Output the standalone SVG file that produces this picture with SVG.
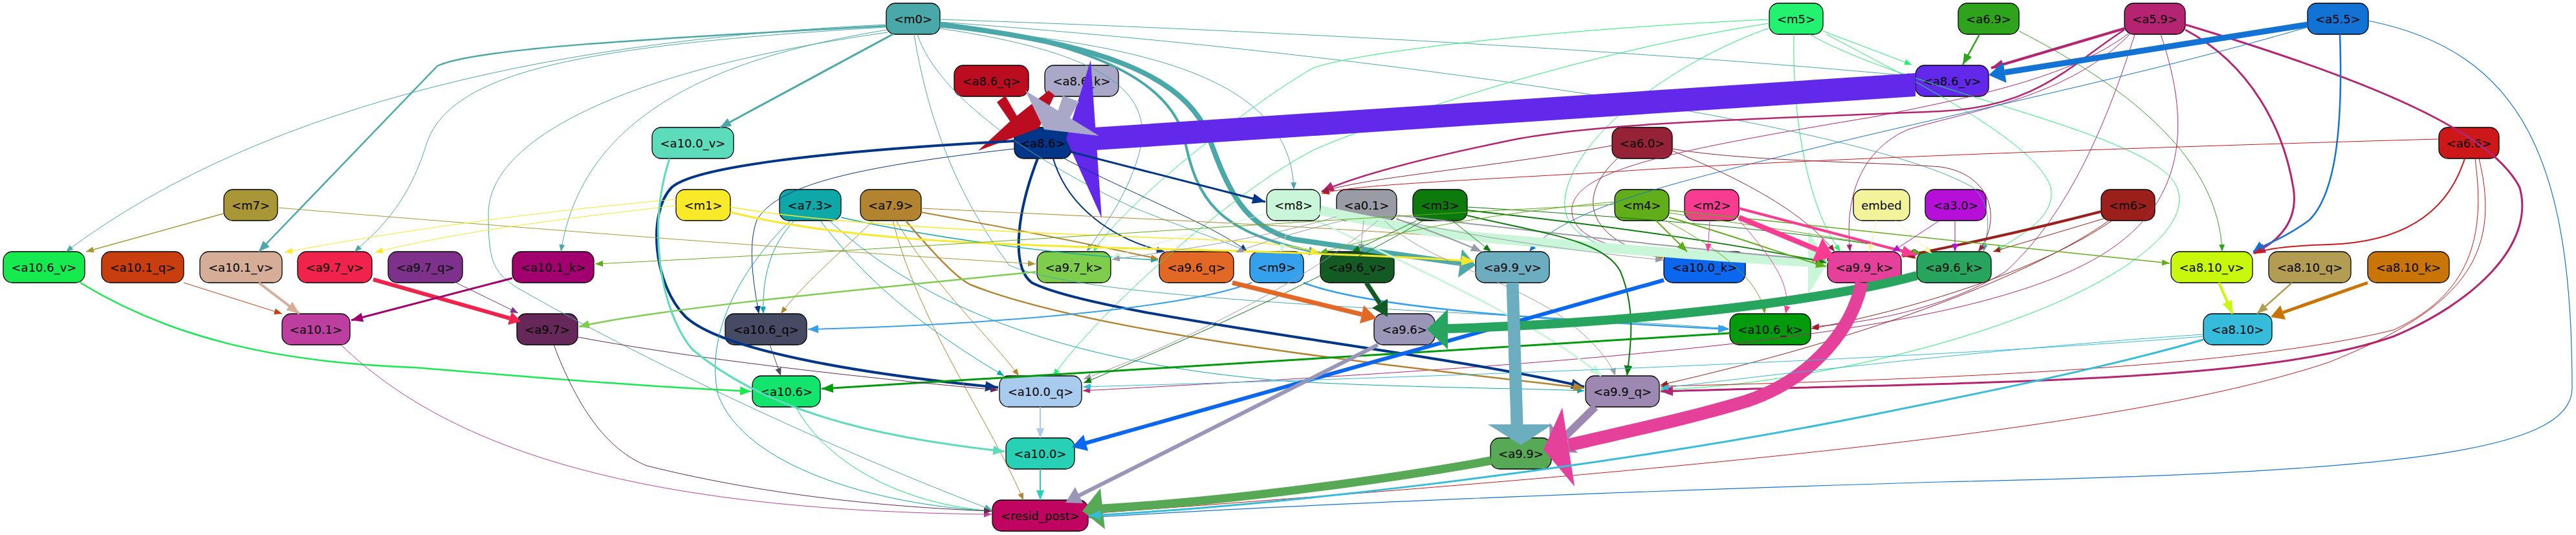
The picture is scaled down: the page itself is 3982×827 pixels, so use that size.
<svg xmlns="http://www.w3.org/2000/svg" width="3982" height="827" viewBox="0 0 3982 827">
<style>
.n rect{stroke:#000;stroke-width:1.3}
.n text{font-family:"DejaVu Sans","Liberation Sans",sans-serif;font-size:18px;text-anchor:middle;fill:#000}
#connectors path{fill:none}
#connectors .bd{marker-end:none}
#connectors polygon{stroke:none;marker-end:none}
</style>
<defs>
<marker id="s-m0" viewBox="0 0 10 8" refX="10" refY="4" markerWidth="11" markerHeight="9" markerUnits="userSpaceOnUse" orient="auto"><path d="M0,0L10,4L0,8z" fill="#4aa8a8"/></marker>
<marker id="l-m0" viewBox="0 0 10 8" refX="10" refY="4" markerWidth="17" markerHeight="14" markerUnits="userSpaceOnUse" orient="auto"><path d="M0,0L10,4L0,8z" fill="#4aa8a8"/></marker>
<marker id="s-m5" viewBox="0 0 10 8" refX="10" refY="4" markerWidth="11" markerHeight="9" markerUnits="userSpaceOnUse" orient="auto"><path d="M0,0L10,4L0,8z" fill="#22f26f"/></marker>
<marker id="s-a69" viewBox="0 0 10 8" refX="10" refY="4" markerWidth="11" markerHeight="9" markerUnits="userSpaceOnUse" orient="auto"><path d="M0,0L10,4L0,8z" fill="#2ea41d"/></marker>
<marker id="l-a69" viewBox="0 0 10 8" refX="10" refY="4" markerWidth="17" markerHeight="14" markerUnits="userSpaceOnUse" orient="auto"><path d="M0,0L10,4L0,8z" fill="#2ea41d"/></marker>
<marker id="s-a59" viewBox="0 0 10 8" refX="10" refY="4" markerWidth="11" markerHeight="9" markerUnits="userSpaceOnUse" orient="auto"><path d="M0,0L10,4L0,8z" fill="#b52471"/></marker>
<marker id="l-a59" viewBox="0 0 10 8" refX="10" refY="4" markerWidth="19" markerHeight="16" markerUnits="userSpaceOnUse" orient="auto"><path d="M0,0L10,4L0,8z" fill="#b52471"/></marker>
<marker id="s-a55" viewBox="0 0 10 8" refX="10" refY="4" markerWidth="11" markerHeight="9" markerUnits="userSpaceOnUse" orient="auto"><path d="M0,0L10,4L0,8z" fill="#1373d4"/></marker>
<marker id="l-a55" viewBox="0 0 10 8" refX="10" refY="4" markerWidth="17" markerHeight="14" markerUnits="userSpaceOnUse" orient="auto"><path d="M0,0L10,4L0,8z" fill="#1373d4"/></marker>
<marker id="s-a66" viewBox="0 0 10 8" refX="10" refY="4" markerWidth="12" markerHeight="10" markerUnits="userSpaceOnUse" orient="auto"><path d="M0,0L10,4L0,8z" fill="#cc1819"/></marker>
<marker id="s-m6" viewBox="0 0 10 8" refX="10" refY="4" markerWidth="11" markerHeight="9" markerUnits="userSpaceOnUse" orient="auto"><path d="M0,0L10,4L0,8z" fill="#9b1f1b"/></marker>
<marker id="l-m6" viewBox="0 0 10 8" refX="10" refY="4" markerWidth="19" markerHeight="16" markerUnits="userSpaceOnUse" orient="auto"><path d="M0,0L10,4L0,8z" fill="#9b1f1b"/></marker>
<marker id="s-a60" viewBox="0 0 10 8" refX="10" refY="4" markerWidth="11" markerHeight="9" markerUnits="userSpaceOnUse" orient="auto"><path d="M0,0L10,4L0,8z" fill="#962237"/></marker>
<marker id="s-a86" viewBox="0 0 10 8" refX="10" refY="4" markerWidth="12" markerHeight="10" markerUnits="userSpaceOnUse" orient="auto"><path d="M0,0L10,4L0,8z" fill="#003587"/></marker>
<marker id="l-a86" viewBox="0 0 10 8" refX="10" refY="4" markerWidth="20" markerHeight="16" markerUnits="userSpaceOnUse" orient="auto"><path d="M0,0L10,4L0,8z" fill="#003587"/></marker>
<marker id="s-a73" viewBox="0 0 10 8" refX="10" refY="4" markerWidth="11" markerHeight="9" markerUnits="userSpaceOnUse" orient="auto"><path d="M0,0L10,4L0,8z" fill="#0ea8a8"/></marker>
<marker id="s-a79" viewBox="0 0 10 8" refX="10" refY="4" markerWidth="11" markerHeight="9" markerUnits="userSpaceOnUse" orient="auto"><path d="M0,0L10,4L0,8z" fill="#b2842f"/></marker>
<marker id="l-a79" viewBox="0 0 10 8" refX="10" refY="4" markerWidth="17" markerHeight="14" markerUnits="userSpaceOnUse" orient="auto"><path d="M0,0L10,4L0,8z" fill="#b2842f"/></marker>
<marker id="s-m7" viewBox="0 0 10 8" refX="10" refY="4" markerWidth="12" markerHeight="10" markerUnits="userSpaceOnUse" orient="auto"><path d="M0,0L10,4L0,8z" fill="#a99637"/></marker>
<marker id="s-m1" viewBox="0 0 10 8" refX="10" refY="4" markerWidth="12" markerHeight="10" markerUnits="userSpaceOnUse" orient="auto"><path d="M0,0L10,4L0,8z" fill="#f8ea28"/></marker>
<marker id="l-m1" viewBox="0 0 10 8" refX="10" refY="4" markerWidth="20" markerHeight="16" markerUnits="userSpaceOnUse" orient="auto"><path d="M0,0L10,4L0,8z" fill="#f8ea28"/></marker>
<marker id="l-m9" viewBox="0 0 10 8" refX="10" refY="4" markerWidth="16" markerHeight="13" markerUnits="userSpaceOnUse" orient="auto"><path d="M0,0L10,4L0,8z" fill="#35a0ec"/></marker>
<marker id="s-m8" viewBox="0 0 10 8" refX="10" refY="4" markerWidth="12" markerHeight="10" markerUnits="userSpaceOnUse" orient="auto"><path d="M0,0L10,4L0,8z" fill="#c9f5d8"/></marker>
<marker id="l-m8" viewBox="0 0 10 8" refX="10" refY="4" markerWidth="18" markerHeight="15" markerUnits="userSpaceOnUse" orient="auto"><path d="M0,0L10,4L0,8z" fill="#c9f5d8"/></marker>
<marker id="s-a01" viewBox="0 0 10 8" refX="10" refY="4" markerWidth="12" markerHeight="10" markerUnits="userSpaceOnUse" orient="auto"><path d="M0,0L10,4L0,8z" fill="#9a9ca5"/></marker>
<marker id="l-a01" viewBox="0 0 10 8" refX="10" refY="4" markerWidth="16" markerHeight="13" markerUnits="userSpaceOnUse" orient="auto"><path d="M0,0L10,4L0,8z" fill="#9a9ca5"/></marker>
<marker id="s-m3" viewBox="0 0 10 8" refX="10" refY="4" markerWidth="12" markerHeight="10" markerUnits="userSpaceOnUse" orient="auto"><path d="M0,0L10,4L0,8z" fill="#0c7b0c"/></marker>
<marker id="l-m3" viewBox="0 0 10 8" refX="10" refY="4" markerWidth="16" markerHeight="13" markerUnits="userSpaceOnUse" orient="auto"><path d="M0,0L10,4L0,8z" fill="#0c7b0c"/></marker>
<marker id="s-m4" viewBox="0 0 10 8" refX="10" refY="4" markerWidth="12" markerHeight="10" markerUnits="userSpaceOnUse" orient="auto"><path d="M0,0L10,4L0,8z" fill="#62ad1a"/></marker>
<marker id="l-m4" viewBox="0 0 10 8" refX="10" refY="4" markerWidth="16" markerHeight="13" markerUnits="userSpaceOnUse" orient="auto"><path d="M0,0L10,4L0,8z" fill="#62ad1a"/></marker>
<marker id="s-m2" viewBox="0 0 10 8" refX="10" refY="4" markerWidth="12" markerHeight="10" markerUnits="userSpaceOnUse" orient="auto"><path d="M0,0L10,4L0,8z" fill="#f83c92"/></marker>
<marker id="l-m2" viewBox="0 0 10 8" refX="10" refY="4" markerWidth="22" markerHeight="18" markerUnits="userSpaceOnUse" orient="auto"><path d="M0,0L10,4L0,8z" fill="#f83c92"/></marker>
<marker id="s-emb" viewBox="0 0 10 8" refX="10" refY="4" markerWidth="12" markerHeight="10" markerUnits="userSpaceOnUse" orient="auto"><path d="M0,0L10,4L0,8z" fill="#f2f39a"/></marker>
<marker id="s-a30" viewBox="0 0 10 8" refX="10" refY="4" markerWidth="12" markerHeight="10" markerUnits="userSpaceOnUse" orient="auto"><path d="M0,0L10,4L0,8z" fill="#b50fd8"/></marker>
<marker id="s-a97q" viewBox="0 0 10 8" refX="10" refY="4" markerWidth="12" markerHeight="10" markerUnits="userSpaceOnUse" orient="auto"><path d="M0,0L10,4L0,8z" fill="#7d318b"/></marker>
<marker id="l-a97k" viewBox="0 0 10 8" refX="10" refY="4" markerWidth="16" markerHeight="13" markerUnits="userSpaceOnUse" orient="auto"><path d="M0,0L10,4L0,8z" fill="#7ecd4d"/></marker>
<marker id="s-a101q" viewBox="0 0 10 8" refX="10" refY="4" markerWidth="12" markerHeight="10" markerUnits="userSpaceOnUse" orient="auto"><path d="M0,0L10,4L0,8z" fill="#c93e0f"/></marker>
<marker id="l-a101v" viewBox="0 0 10 8" refX="10" refY="4" markerWidth="20" markerHeight="16" markerUnits="userSpaceOnUse" orient="auto"><path d="M0,0L10,4L0,8z" fill="#d6ae98"/></marker>
<marker id="l-a101k" viewBox="0 0 10 8" refX="10" refY="4" markerWidth="18" markerHeight="15" markerUnits="userSpaceOnUse" orient="auto"><path d="M0,0L10,4L0,8z" fill="#a2006e"/></marker>
<marker id="l-a106v" viewBox="0 0 10 8" refX="10" refY="4" markerWidth="17" markerHeight="14" markerUnits="userSpaceOnUse" orient="auto"><path d="M0,0L10,4L0,8z" fill="#17ea4f"/></marker>
<marker id="s-a106q" viewBox="0 0 10 8" refX="10" refY="4" markerWidth="12" markerHeight="10" markerUnits="userSpaceOnUse" orient="auto"><path d="M0,0L10,4L0,8z" fill="#464a63"/></marker>
<marker id="l-a106k" viewBox="0 0 10 8" refX="10" refY="4" markerWidth="18" markerHeight="15" markerUnits="userSpaceOnUse" orient="auto"><path d="M0,0L10,4L0,8z" fill="#029b0c"/></marker>
<marker id="s-a106" viewBox="0 0 10 8" refX="10" refY="4" markerWidth="12" markerHeight="10" markerUnits="userSpaceOnUse" orient="auto"><path d="M0,0L10,4L0,8z" fill="#12e46e"/></marker>
<marker id="s-a101" viewBox="0 0 10 8" refX="10" refY="4" markerWidth="12" markerHeight="10" markerUnits="userSpaceOnUse" orient="auto"><path d="M0,0L10,4L0,8z" fill="#bc3fa0"/></marker>
<marker id="s-a97" viewBox="0 0 10 8" refX="10" refY="4" markerWidth="12" markerHeight="10" markerUnits="userSpaceOnUse" orient="auto"><path d="M0,0L10,4L0,8z" fill="#652858"/></marker>
<marker id="l-a100v" viewBox="0 0 10 8" refX="10" refY="4" markerWidth="18" markerHeight="15" markerUnits="userSpaceOnUse" orient="auto"><path d="M0,0L10,4L0,8z" fill="#5ddcbb"/></marker>
<marker id="s-a100q" viewBox="0 0 10 8" refX="10" refY="4" markerWidth="15" markerHeight="12" markerUnits="userSpaceOnUse" orient="auto"><path d="M0,0L10,4L0,8z" fill="#a9cbee"/></marker>
<marker id="s-a100" viewBox="0 0 10 8" refX="10" refY="4" markerWidth="15" markerHeight="12" markerUnits="userSpaceOnUse" orient="auto"><path d="M0,0L10,4L0,8z" fill="#28d1b5"/></marker>
<marker id="l-a810v" viewBox="0 0 10 8" refX="10" refY="4" markerWidth="20" markerHeight="16" markerUnits="userSpaceOnUse" orient="auto"><path d="M0,0L10,4L0,8z" fill="#c8f80b"/></marker>
<marker id="l-a810q" viewBox="0 0 10 8" refX="10" refY="4" markerWidth="17" markerHeight="14" markerUnits="userSpaceOnUse" orient="auto"><path d="M0,0L10,4L0,8z" fill="#b39d52"/></marker>
<marker id="s-a810" viewBox="0 0 10 8" refX="10" refY="4" markerWidth="12" markerHeight="10" markerUnits="userSpaceOnUse" orient="auto"><path d="M0,0L10,4L0,8z" fill="#36bcdb"/></marker>
<marker id="l-a810" viewBox="0 0 10 8" refX="10" refY="4" markerWidth="18" markerHeight="15" markerUnits="userSpaceOnUse" orient="auto"><path d="M0,0L10,4L0,8z" fill="#36bcdb"/></marker>
</defs>
<rect width="3982" height="827" fill="#fff"/>

<g id="nodes">
<g id="m0" class="n"><rect x="1370" y="5" width="83" height="48" rx="14" fill="#4aa8a8"/><text x="1411.5" y="35.5">&lt;m0&gt;</text></g>
<g id="m5" class="n"><rect x="2735" y="5" width="83" height="48" rx="14" fill="#22f26f"/><text x="2776.5" y="35.5">&lt;m5&gt;</text></g>
<g id="a6-9" class="n"><rect x="3027" y="5" width="94" height="48" rx="14" fill="#2ea41d"/><text x="3074" y="35.5">&lt;a6.9&gt;</text></g>
<g id="a5-9" class="n"><rect x="3284" y="5" width="94" height="48" rx="14" fill="#b52471"/><text x="3331" y="35.5">&lt;a5.9&gt;</text></g>
<g id="a5-5" class="n"><rect x="3567" y="5" width="94" height="48" rx="14" fill="#1373d4"/><text x="3614" y="35.5">&lt;a5.5&gt;</text></g>
<g id="a8-6-q" class="n"><rect x="1475" y="101" width="115" height="48" rx="14" fill="#bb0c20"/><text x="1532.5" y="131.5">&lt;a8.6_q&gt;</text></g>
<g id="a8-6-k" class="n"><rect x="1615" y="101" width="114" height="48" rx="14" fill="#a9a8c8"/><text x="1672" y="131.5">&lt;a8.6_k&gt;</text></g>
<g id="a8-6-v" class="n"><rect x="2961" y="101" width="113" height="48" rx="14" fill="#6329ea"/><text x="3017.5" y="131.5">&lt;a8.6_v&gt;</text></g>
<g id="a10-0-v" class="n"><rect x="1008" y="197" width="126" height="48" rx="14" fill="#5ddcbb"/><text x="1071" y="227.5">&lt;a10.0_v&gt;</text></g>
<g id="a8-6" class="n"><rect x="1568" y="197" width="88" height="48" rx="14" fill="#003587"/><text x="1612" y="227.5">&lt;a8.6&gt;</text></g>
<g id="a6-0" class="n"><rect x="2492" y="197" width="93" height="48" rx="14" fill="#962237"/><text x="2538.5" y="227.5">&lt;a6.0&gt;</text></g>
<g id="a6-6" class="n"><rect x="3770" y="197" width="93" height="48" rx="14" fill="#cc1819"/><text x="3816.5" y="227.5">&lt;a6.6&gt;</text></g>
<g id="m7" class="n"><rect x="346" y="293" width="83" height="48" rx="14" fill="#a99637"/><text x="387.5" y="323.5">&lt;m7&gt;</text></g>
<g id="m1" class="n"><rect x="1045" y="293" width="84" height="48" rx="14" fill="#f8ea28"/><text x="1087" y="323.5">&lt;m1&gt;</text></g>
<g id="a7-3" class="n"><rect x="1205" y="293" width="95" height="48" rx="14" fill="#0ea8a8"/><text x="1252.5" y="323.5">&lt;a7.3&gt;</text></g>
<g id="a7-9" class="n"><rect x="1330" y="293" width="94" height="48" rx="14" fill="#b2842f"/><text x="1377" y="323.5">&lt;a7.9&gt;</text></g>
<g id="m8" class="n"><rect x="1958" y="293" width="83" height="48" rx="14" fill="#c9f5d8"/><text x="1999.5" y="323.5">&lt;m8&gt;</text></g>
<g id="a0-1" class="n"><rect x="2066" y="293" width="93" height="48" rx="14" fill="#9a9ca5"/><text x="2112.5" y="323.5">&lt;a0.1&gt;</text></g>
<g id="m3" class="n"><rect x="2184" y="293" width="84" height="48" rx="14" fill="#0c7b0c"/><text x="2226" y="323.5">&lt;m3&gt;</text></g>
<g id="m4" class="n"><rect x="2496" y="293" width="84" height="48" rx="14" fill="#62ad1a"/><text x="2538" y="323.5">&lt;m4&gt;</text></g>
<g id="m2" class="n"><rect x="2604" y="293" width="84" height="48" rx="14" fill="#f83c92"/><text x="2646" y="323.5">&lt;m2&gt;</text></g>
<g id="embed" class="n"><rect x="2865" y="293" width="87" height="48" rx="14" fill="#f2f39a"/><text x="2908.5" y="323.5">embed</text></g>
<g id="a3-0" class="n"><rect x="2976" y="293" width="94" height="48" rx="14" fill="#b50fd8"/><text x="3023" y="323.5">&lt;a3.0&gt;</text></g>
<g id="m6" class="n"><rect x="3248" y="293" width="83" height="48" rx="14" fill="#9b1f1b"/><text x="3289.5" y="323.5">&lt;m6&gt;</text></g>
<g id="a10-6-v" class="n"><rect x="5" y="389" width="126" height="48" rx="14" fill="#17ea4f"/><text x="68" y="419.5">&lt;a10.6_v&gt;</text></g>
<g id="a10-1-q" class="n"><rect x="157" y="389" width="127" height="48" rx="14" fill="#c93e0f"/><text x="220.5" y="419.5">&lt;a10.1_q&gt;</text></g>
<g id="a10-1-v" class="n"><rect x="309" y="389" width="127" height="48" rx="14" fill="#d6ae98"/><text x="372.5" y="419.5">&lt;a10.1_v&gt;</text></g>
<g id="a9-7-v" class="n"><rect x="460" y="389" width="115" height="48" rx="14" fill="#f0234c"/><text x="517.5" y="419.5">&lt;a9.7_v&gt;</text></g>
<g id="a9-7-q" class="n"><rect x="600" y="389" width="115" height="48" rx="14" fill="#7d318b"/><text x="657.5" y="419.5">&lt;a9.7_q&gt;</text></g>
<g id="a10-1-k" class="n"><rect x="792" y="389" width="126" height="48" rx="14" fill="#a2006e"/><text x="855" y="419.5">&lt;a10.1_k&gt;</text></g>
<g id="a9-7-k" class="n"><rect x="1603" y="389" width="114" height="48" rx="14" fill="#7ecd4d"/><text x="1660" y="419.5">&lt;a9.7_k&gt;</text></g>
<g id="a9-6-q" class="n"><rect x="1792" y="389" width="115" height="48" rx="14" fill="#e26826"/><text x="1849.5" y="419.5">&lt;a9.6_q&gt;</text></g>
<g id="m9" class="n"><rect x="1932" y="389" width="83" height="48" rx="14" fill="#35a0ec"/><text x="1973.5" y="419.5">&lt;m9&gt;</text></g>
<g id="a9-6-v" class="n"><rect x="2041" y="389" width="114" height="48" rx="14" fill="#145a25"/><text x="2098" y="419.5">&lt;a9.6_v&gt;</text></g>
<g id="a9-9-v" class="n"><rect x="2281" y="389" width="114" height="48" rx="14" fill="#6dadc0"/><text x="2338" y="419.5">&lt;a9.9_v&gt;</text></g>
<g id="a10-0-k" class="n"><rect x="2572" y="389" width="126" height="48" rx="14" fill="#0b67ee"/><text x="2635" y="419.5">&lt;a10.0_k&gt;</text></g>
<g id="a9-9-k" class="n"><rect x="2825" y="389" width="114" height="48" rx="14" fill="#e5419b"/><text x="2882" y="419.5">&lt;a9.9_k&gt;</text></g>
<g id="a9-6-k" class="n"><rect x="2963" y="389" width="115" height="48" rx="14" fill="#27a55e"/><text x="3020.5" y="419.5">&lt;a9.6_k&gt;</text></g>
<g id="a8-10-v" class="n"><rect x="3356" y="389" width="126" height="48" rx="14" fill="#c8f80b"/><text x="3419" y="419.5">&lt;a8.10_v&gt;</text></g>
<g id="a8-10-q" class="n"><rect x="3507" y="389" width="127" height="48" rx="14" fill="#b39d52"/><text x="3570.5" y="419.5">&lt;a8.10_q&gt;</text></g>
<g id="a8-10-k" class="n"><rect x="3660" y="389" width="126" height="48" rx="14" fill="#c87406"/><text x="3723" y="419.5">&lt;a8.10_k&gt;</text></g>
<g id="a10-1" class="n"><rect x="436" y="485" width="105" height="48" rx="14" fill="#bc3fa0"/><text x="488.5" y="515.5">&lt;a10.1&gt;</text></g>
<g id="a9-7" class="n"><rect x="799" y="485" width="94" height="48" rx="14" fill="#652858"/><text x="846" y="515.5">&lt;a9.7&gt;</text></g>
<g id="a10-6-q" class="n"><rect x="1121" y="485" width="126" height="48" rx="14" fill="#464a63"/><text x="1184" y="515.5">&lt;a10.6_q&gt;</text></g>
<g id="a9-6" class="n"><rect x="2124" y="485" width="94" height="48" rx="14" fill="#9a96b8"/><text x="2171" y="515.5">&lt;a9.6&gt;</text></g>
<g id="a10-6-k" class="n"><rect x="2674" y="485" width="125" height="48" rx="14" fill="#029b0c"/><text x="2736.5" y="515.5">&lt;a10.6_k&gt;</text></g>
<g id="a8-10" class="n"><rect x="3406" y="485" width="106" height="48" rx="14" fill="#36bcdb"/><text x="3459" y="515.5">&lt;a8.10&gt;</text></g>
<g id="a10-6" class="n"><rect x="1163" y="581" width="105" height="48" rx="14" fill="#12e46e"/><text x="1215.5" y="611.5">&lt;a10.6&gt;</text></g>
<g id="a10-0-q" class="n"><rect x="1545" y="581" width="127" height="48" rx="14" fill="#a9cbee"/><text x="1608.5" y="611.5">&lt;a10.0_q&gt;</text></g>
<g id="a9-9-q" class="n"><rect x="2451" y="581" width="114" height="48" rx="14" fill="#9d88b2"/><text x="2508" y="611.5">&lt;a9.9_q&gt;</text></g>
<g id="a10-0" class="n"><rect x="1555" y="677" width="106" height="48" rx="14" fill="#28d1b5"/><text x="1608" y="707.5">&lt;a10.0&gt;</text></g>
<g id="a9-9" class="n"><rect x="2304" y="677" width="94" height="48" rx="14" fill="#57a955"/><text x="2351" y="707.5">&lt;a9.9&gt;</text></g>
<g id="resid-post" class="n"><rect x="1534" y="773" width="148" height="48" rx="14" fill="#c00560"/><text x="1608" y="803.5">&lt;resid_post&gt;</text></g>
</g>

<g id="connectors">
<g stroke="#4aa8a8" marker-end="url(#s-m0)">
<path d="M1370,38 C900,60 420,150 102,389"/>
<path d="M1370,40 C1000,60 730,75 676,102 L400,389" stroke-width="2.5" marker-end="url(#l-m0)"/>
<path d="M1370,42 C900,70 700,110 660,220 C630,320 580,360 548,389"/>
<path d="M1372,46 C1100,90 900,180 867,389"/>
<path d="M1372,50 C950,110 755,220 755,330 C755,400 760,420 800,445 C1000,560 1300,700 1533,788"/>
<path d="M1380,53 L1113,197" stroke-width="3" marker-end="url(#l-m0)"/>
<path d="M1453,36 C1650,60 1800,110 1830,210 C1850,310 1880,360 2040,391" stroke-width="4" marker-end="url(#l-m0)"/>
<path d="M1453,30 C1900,45 2500,75 2960,118"/>
<path d="M1453,34 C2100,80 2880,190 3050,290 C3085,320 3070,370 3066,389"/>
<path d="M1453,42 C1800,70 1995,130 2000,293"/>
<path d="M1453,44 C1700,80 1790,140 1760,240 C1740,310 1695,365 1680,389"/>
<path d="M1418,53 C1450,150 1600,250 1750,320 C1850,360 1900,375 1930,390"/>
<path d="M1413,53 C1440,220 1500,330 1560,410 C1700,470 2300,480 2672,508"/>
<path class="bd" d="M1453,38 C1680,65 1830,110 1868,210 C1900,300 1925,350 2000,370 L2257,407" stroke-width="8"/>
<polygon points="2281,410 2260,385 2254,429" fill="#4aa8a8"/>
</g>
<g stroke="#22f26f" marker-end="url(#s-m5)">
<path d="M2818,48 L2955,100"/>
<path d="M2735,30 C2400,45 2100,80 2030,105 C1950,150 1750,300 1690,389"/>
<path d="M2735,36 C2450,80 2150,180 2030,232 C1900,300 1700,480 1628,581"/>
<path d="M2736,43 C2600,90 2440,200 2420,300 C2410,360 2460,385 2570,396"/>
<path d="M2773,53 C2770,200 2800,330 2845,389"/>
<path d="M2797,53 C2950,140 3300,200 3360,280 C3400,340 3300,420 3150,480 C2950,560 2700,600 2567,602"/>
<path d="M2823,53 C2950,120 3150,220 3170,290 C3180,340 3110,370 3084,389"/>
</g>
<g stroke="#2ea41d" marker-end="url(#s-a69)">
<path d="M3060,53 L3034,100" stroke-width="2.5" marker-end="url(#l-a69)"/>
<path d="M3121,48 C3300,140 3430,250 3435,389"/>
</g>
<g stroke="#b52471" marker-end="url(#s-a59)">
<path d="M3284,44 L3078,105" stroke-width="4" marker-end="url(#l-a59)"/>
<path d="M3284,46 C3200,100 3150,165 3000,172 C2700,185 2450,190 2320,220 C2200,245 2100,270 2043,296" stroke-width="2.5" marker-end="url(#l-a59)"/>
<path d="M3378,46 C3480,100 3530,200 3545,290 C3555,350 3510,380 3483,391" stroke-width="3" marker-end="url(#l-a59)"/>
<path d="M3378,38 C3650,120 3850,200 3895,290 C3920,380 3820,470 3700,520 C3500,590 3100,590 2567,605" stroke-width="3" marker-end="url(#l-a59)"/>
<path d="M3300,53 C3260,180 3200,330 3100,420 C3000,480 2880,500 2801,505"/>
<path d="M3340,53 C3390,200 3380,330 3220,410 C3000,520 2500,560 1674,604"/>
<path d="M3295,50 C3200,150 3050,170 2950,200 C2880,230 2850,300 2860,389"/>
<path d="M3290,52 C3200,120 3050,150 2900,180 C2600,230 2440,260 2430,320 C2425,370 2500,385 2572,394"/>
</g>
<g stroke="#1373d4" marker-end="url(#s-a55)">
<path class="bd" d="M3567,38 L3099,112" stroke-width="9"/>
<polygon points="3074,116 3101.5,128 3096.5,96" fill="#1373d4"/>
<path d="M3617,53 C3622,200 3610,300 3570,340 C3530,370 3495,380 3483,389" stroke-width="2.5" marker-end="url(#l-a55)"/>
<path d="M3567,42 C3300,120 3000,180 2800,230 C2600,280 2420,320 2364,389"/>
<path d="M3661,32 C3900,80 3976,250 3976,600 C3976,700 3700,730 3000,745 C2500,760 2000,780 1683,800" stroke-width="1.2"/>
</g>
<g stroke="#cc1819" marker-end="url(#s-a66)">
<path d="M3770,215 C3400,225 2800,245 2500,265 C2250,280 2100,285 2043,299"/>
<path d="M3810,245 C3780,340 3700,375 3600,378 C3530,380 3500,385 3485,392" stroke-width="2"/>
<path d="M3826,245 C3840,350 3830,450 3700,510 C3500,560 3100,585 2567,597"/>
<path d="M3832,245 C3870,400 3800,480 3600,560 C3300,660 2700,720 1683,794"/>
</g>
<g stroke="#9b1f1b" marker-end="url(#s-m6)">
<path d="M3248,327 C3120,360 3000,385 2941,396" stroke-width="4" marker-end="url(#l-m6)"/>
<path d="M3252,338 L3081,389"/>
<path d="M3265,341 C3150,420 2950,480 2800,508"/>
<path d="M3260,341 C3150,420 2900,520 2567,595"/>
</g>
<g stroke="#962237" marker-end="url(#s-a60)">
<path d="M2492,225 C2300,260 2100,275 2043,297"/>
<path d="M2500,245 C2420,320 2480,380 2571,399"/>
<path d="M2585,233 C2700,280 2790,330 2836,389"/>
<path d="M2585,230 C2700,250 2900,250 3000,258 C3080,270 3095,340 3058,389"/>
</g>
<g id="to-a8-6">
<polygon points="2961,113 2961,149 1695,232 1692,197" fill="#6329ea"/>
<polygon points="1686,93 1703,337 1648,215" fill="#6329ea"/>
<polygon points="1541,158 1554,148 1577,188 1563,190" fill="#bb0c20"/>
<polygon points="1512,233 1563,186 1621,140 1630,147 1606,198" fill="#bb0c20"/>
<polygon points="1643,148 1668,157 1654,182 1632,182" fill="#a9a8c8"/>
<polygon points="1585,140 1699,210 1614,200" fill="#a9a8c8"/>
</g>
<g stroke="#003587" marker-end="url(#s-a86)">
<path d="M1568,218 C1250,235 1070,260 1038,290 C1000,330 1010,440 1060,490 C1120,545 1350,580 1543,599" stroke-width="4" marker-end="url(#l-a86)"/>
<path d="M1604,245 C1575,320 1560,410 1595,437 C1700,490 2200,540 2449,598" stroke-width="4" marker-end="url(#l-a86)"/>
<path d="M1628,245 C1650,320 1720,370 1800,389" stroke-width="2"/>
<path d="M1645,245 C1750,300 1880,350 1928,389"/>
<path d="M1656,235 L1956,312" stroke-width="3" marker-end="url(#l-a86)"/>
<path d="M1568,230 C1300,260 1200,290 1170,340 C1155,380 1165,440 1173,485"/>
</g>
<g stroke="#0ea8a8" marker-end="url(#s-a73)">
<path d="M1228,341 C1190,380 1178,430 1180,485"/>
<path d="M1300,336 C1450,370 1650,395 1790,402" stroke-width="1.5"/>
<path d="M1268,341 C1350,450 1450,520 1552,581"/>
<path d="M1282,341 C1400,450 1600,560 2000,590 C2200,600 2350,600 2449,604"/>
<path d="M1222,341 C1140,420 1090,520 1110,610 C1150,720 1350,780 1533,790"/>
</g>
<g stroke="#b2842f" marker-end="url(#s-a79)">
<path d="M1350,341 C1300,390 1240,440 1207,485"/>
<path d="M1385,341 C1450,450 1530,520 1575,581"/>
<path d="M1380,341 C1420,500 1530,650 1582,773"/>
<path d="M1400,341 C1450,400 1480,430 1500,440 C1700,520 2200,570 2449,600" stroke-width="2.5" marker-end="url(#l-a79)"/>
<path d="M1424,328 C1600,360 1720,385 1790,400" stroke-width="2"/>
<path d="M1424,322 C1800,340 2300,360 2571,398"/>
</g>
<g stroke="#a99637" marker-end="url(#s-m7)">
<path d="M346,330 L133,389" stroke-width="1.5"/>
<path d="M429,321 C900,360 1300,390 1601,408"/>
</g>
<g stroke="#f8ea28" marker-end="url(#s-m1)">
<path d="M1045,308 C800,330 600,360 440,390"/>
<path d="M1045,318 C850,340 700,360 580,390"/>
<path d="M1129,328 C1300,370 1500,378 1800,385 C2000,390 2150,395 2279,404" stroke-width="3" marker-end="url(#l-m1)"/>
<path d="M1129,320 C1300,350 1600,360 1800,368 C1950,372 2000,380 2038,390" stroke-width="1.5"/>
</g>
<g stroke="#35a0ec" marker-end="url(#l-m9)">
<path d="M1935,437 C1850,470 1600,500 1249,509" stroke-width="2"/>
<path d="M2015,437 C2100,470 2300,490 2672,509" stroke-width="2.5"/>
</g>
<g stroke="#c9f5d8" marker-end="url(#s-m8)">
<path class="bd" d="M2041,325 C2150,350 2220,360 2300,368 C2500,385 2700,400 2795,405" stroke-width="15"/>
<polygon points="2826,405 2795,357 2795,455" fill="#c9f5d8"/>
<path d="M1958,330 C1850,360 1770,380 1719,398"/>
<path d="M1995,341 L1980,389"/>
<path d="M2035,341 C2200,420 2380,500 2475,581" stroke-width="3" marker-end="url(#l-m8)"/>
</g>
<g stroke="#9a9ca5" marker-end="url(#s-a01)">
<path d="M2066,335 C1950,370 1800,390 1719,401"/>
<path d="M2075,341 C2000,360 1950,375 1910,390"/>
<path d="M2108,341 L2103,389"/>
<path d="M2158,338 C2220,360 2260,375 2290,389" stroke-width="2" marker-end="url(#l-a01)"/>
<path d="M2160,333 C2400,360 2650,390 2822,402" stroke-width="2" marker-end="url(#l-a01)"/>
<path d="M2160,340 C2300,370 2450,390 2571,402"/>
<path d="M2140,341 C2200,400 2300,420 2400,480 C2460,520 2490,560 2497,581"/>
<path d="M2130,341 C2000,450 1800,540 1675,586"/>
</g>
<g stroke="#0c7b0c" marker-end="url(#s-m3)">
<path d="M2190,341 L2090,389"/>
<path d="M2245,341 L2305,389"/>
<path d="M2268,333 C2380,360 2480,370 2505,420 C2530,480 2520,540 2515,581" stroke-width="2" marker-end="url(#l-m3)"/>
<path d="M2268,325 C2500,350 2700,380 2823,406" stroke-width="2" marker-end="url(#l-m3)"/>
<path d="M2268,320 C2600,340 2850,365 2970,392"/>
<path d="M2200,341 C2050,430 1800,540 1675,592"/>
</g>
<g stroke="#62ad1a" marker-end="url(#s-m4)">
<path d="M2560,341 L2608,389" stroke-width="2" marker-end="url(#l-m4)"/>
<path d="M2580,336 C2700,370 2760,395 2823,412" stroke-width="2" marker-end="url(#l-m4)"/>
<path d="M2580,329 C2750,355 2900,375 2968,392"/>
<path d="M2496,316 C2000,340 1500,380 920,408"/>
<path d="M2496,312 C2300,330 2150,360 2040,391"/>
<path d="M2580,325 C2800,350 3100,380 3354,407" stroke-width="1.5"/>
<path d="M2575,341 C2650,380 2720,430 2728,485"/>
</g>
<g stroke="#f83c92" marker-end="url(#s-m2)">
<path class="bd" d="M2688,336 L2809,386" stroke-width="8"/>
<polygon points="2835,397 2801,405 2817,368" fill="#f83c92"/>
<path d="M2688,322 L2962,394" stroke-width="4" marker-end="url(#l-m2)"/>
<path d="M2643,341 L2640,389"/>
<path d="M2688,340 C2740,400 2770,440 2760,485"/>
</g>
<g stroke="#f2f39a" marker-end="url(#s-emb)">
<path d="M2900,341 L2890,389"/>
<path d="M2930,341 L2986,392"/>
</g>
<g stroke="#b50fd8" marker-end="url(#s-a30)">
<path d="M2998,341 L2925,389"/>
<path d="M3022,341 L3022,389"/>
</g>
<g stroke="#f0234c">
<path class="bd" d="M577,432 L788,492" stroke-width="6"/>
<polygon points="805,497 785,502 791,482" fill="#f0234c"/>
</g>
<path d="M705,437 L801,484" stroke="#7d318b" marker-end="url(#s-a97q)"/>
<path d="M1603,420 C1300,450 1000,480 895,505" stroke="#7ecd4d" stroke-width="2.5" marker-end="url(#l-a97k)"/>
<path d="M284,437 L436,485" stroke="#c93e0f" marker-end="url(#s-a101q)"/>
<path d="M400,437 L463,485" stroke="#d6ae98" stroke-width="4" marker-end="url(#l-a101v)"/>
<path d="M792,430 L543,495" stroke="#a2006e" stroke-width="3" marker-end="url(#l-a101k)"/>
<path d="M124,437 C260,520 420,560 640,568 C850,585 1000,598 1161,605" stroke="#17ea4f" stroke-width="2.5" marker-end="url(#l-a106v)"/>
<path d="M1190,533 L1207,581" stroke="#464a63" marker-end="url(#s-a106q)"/>
<path d="M2674,515 L1270,601" stroke="#029b0c" stroke-width="3" marker-end="url(#l-a106k)"/>
<path d="M1230,629 C1280,720 1400,780 1533,790" stroke="#12e46e" marker-end="url(#s-a106)"/>
<path d="M527,533 C700,700 1000,790 1533,795" stroke="#bc3fa0" marker-end="url(#s-a101)"/>
<g stroke="#652858" marker-end="url(#s-a97)">
<path d="M856,533 C900,650 950,700 1000,720 C1200,770 1400,785 1533,790"/>
<path d="M893,521 C1100,560 1400,590 1543,603"/>
</g>
<path d="M1035,245 C1000,350 1020,480 1070,540 C1200,650 1400,680 1553,698" stroke="#5ddcbb" stroke-width="3" marker-end="url(#l-a100v)"/>
<path d="M1608,629 L1608,677" stroke="#a9cbee" stroke-width="2" marker-end="url(#s-a100q)"/>
<path d="M1608,725 L1608,773" stroke="#28d1b5" stroke-width="2" marker-end="url(#s-a100)"/>
<g stroke="#0b67ee">
<path class="bd" d="M2572,433 L1678,685" stroke-width="6"/>
<polygon points="1657,691 1682,697 1675,672" fill="#0b67ee"/>
</g>
<g stroke="#9a96b8">
<path class="bd" d="M2130,533 L1668,766" stroke-width="6"/>
<polygon points="1647,777 1674,778 1662,753" fill="#9a96b8"/>
</g>
<g stroke="#e26826">
<path class="bd" d="M1905,437 L2105,486" stroke-width="7"/>
<polygon points="2128,492 2102,500 2108,472" fill="#e26826"/>
</g>
<g stroke="#145a25">
<path class="bd" d="M2112,437 L2133,469" stroke-width="7"/>
<polygon points="2145,490 2121,476 2145,462" fill="#145a25"/>
</g>
<g stroke="#27a55e">
<path class="bd" d="M2963,426 C2800,470 2500,500 2238,508" stroke-width="14"/>
<polygon points="2206,509 2238,478 2238,540" fill="#27a55e"/>
</g>
<g stroke="#6dadc0">
<path class="bd" d="M2338,437 L2345,657" stroke-width="19"/>
<polygon points="2351,688 2300,656 2400,656" fill="#6dadc0"/>
</g>
<g stroke="#9d88b2">
<path class="bd" d="M2466,629 L2417,677" stroke-width="12"/>
<polygon points="2396,698 2439,700 2395,654" fill="#9d88b2"/>
</g>
<g stroke="#e5419b">
<path class="bd" d="M2878,437 C2860,520 2790,590 2700,620 C2600,650 2500,670 2425,688" stroke-width="20"/>
<polygon points="2386,695 2415,630 2434,752" fill="#e5419b"/>
</g>
<g stroke="#57a955">
<path class="bd" d="M2305,712 C2150,740 1900,775 1704,786" stroke-width="13"/>
<polygon points="1673,790 1701,755 1708,818" fill="#57a955"/>
</g>
<path d="M3430,437 L3451,485" stroke="#c8f80b" stroke-width="4" marker-end="url(#l-a810v)"/>
<path d="M3543,437 L3489,485" stroke="#b39d52" stroke-width="2.5" marker-end="url(#l-a810q)"/>
<g stroke="#c87406">
<path class="bd" d="M3660,437 L3529,483" stroke-width="5"/>
<polygon points="3510,490 3533,494 3525,472" fill="#c87406"/>
</g>
<g stroke="#36bcdb" marker-end="url(#s-a810)">
<path d="M3406,525 C3250,570 3050,610 2900,640 C2500,720 2000,780 1683,797" stroke-width="3" marker-end="url(#l-a810)"/>
<path d="M3406,520 C3100,545 2500,575 1674,598"/>
<path d="M3406,517 C3200,530 2900,560 2567,600"/>
</g>
</g>
</svg>
